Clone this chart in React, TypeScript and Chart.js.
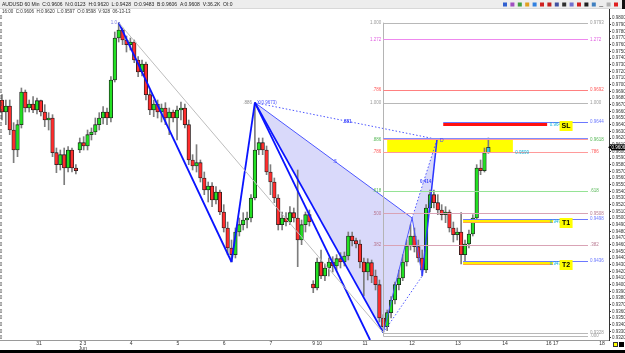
import React, { useEffect, useRef } from 'react';
import { Chart, registerables } from 'chart.js';

Chart.register(...registerables);

// ---------- candle data (2-hour bars, AUDUSD) ----------
const OPEN = [
  0.9677, 0.9659, 0.9668, 0.9632, 0.9602, 0.9640, 0.9689, 0.9665, 0.9671, 0.9662,
  0.9676, 0.9659, 0.9647, 0.9650, 0.9598, 0.9580, 0.9595, 0.9575, 0.9602, 0.9575,
  0.9602, 0.9613, 0.9608, 0.9625, 0.9629, 0.9640, 0.9650, 0.9659, 0.9650, 0.9707,
  0.9770, 0.9782, 0.9767, 0.9760, 0.9764, 0.9737, 0.9719, 0.9731, 0.9685, 0.9662,
  0.9671, 0.9659, 0.9665, 0.9650, 0.9659, 0.9650, 0.9662, 0.9665, 0.9640, 0.9587,
  0.9578, 0.9583, 0.9560, 0.9542, 0.9548, 0.9527, 0.9539, 0.9509, 0.9485, 0.9455,
  0.9445, 0.9479, 0.9490, 0.9497, 0.9500, 0.9530, 0.9602, 0.9613, 0.9602, 0.9569,
  0.9554, 0.9530, 0.9490, 0.9500, 0.9494, 0.9508, 0.9500, 0.9467, 0.9490, 0.9505,
  0.9401, 0.9395, 0.9434, 0.9413, 0.9425, 0.9434, 0.9428, 0.9439, 0.9434, 0.9443,
  0.9473, 0.9466, 0.9461, 0.9434, 0.9419, 0.9433, 0.9413, 0.9400, 0.9350, 0.9337,
  0.9358, 0.9377, 0.9400, 0.9410, 0.9434, 0.9458, 0.9473, 0.9457, 0.9440, 0.9422,
  0.9515, 0.9535, 0.9523, 0.9512, 0.9505, 0.9509, 0.9485, 0.9475, 0.9479, 0.9445,
  0.9461, 0.9476, 0.9500, 0.9575, 0.9571, 0.9598,
];
const HIGH = [
  0.9685, 0.9677, 0.9677, 0.9643, 0.9647, 0.9695, 0.9692, 0.9677, 0.9682, 0.9680,
  0.9677, 0.9670, 0.9658, 0.9655, 0.9605, 0.9602, 0.9605, 0.9607, 0.9605, 0.9580,
  0.9620, 0.9622, 0.9632, 0.9635, 0.9650, 0.9658, 0.9667, 0.9665, 0.9712, 0.9779,
  0.9793, 0.9785, 0.9773, 0.9770, 0.9767, 0.9742, 0.9737, 0.9734, 0.9692, 0.9677,
  0.9677, 0.9671, 0.9673, 0.9665, 0.9662, 0.9668, 0.9674, 0.9671, 0.9647, 0.9595,
  0.9610, 0.9587, 0.9569, 0.9554, 0.9553, 0.9547, 0.9542, 0.9520, 0.9494, 0.9467,
  0.9485, 0.9500, 0.9508, 0.9509, 0.9535, 0.9673, 0.9620, 0.9620, 0.9608, 0.9580,
  0.9560, 0.9535, 0.9509, 0.9508, 0.9517, 0.9515, 0.9572, 0.9497, 0.9509, 0.9512,
  0.9406, 0.9440, 0.9452, 0.9431, 0.9440, 0.9442, 0.9445, 0.9448, 0.9449, 0.9479,
  0.9479, 0.9470, 0.9467, 0.9440, 0.9439, 0.9437, 0.9422, 0.9407, 0.9355, 0.9362,
  0.9382, 0.9404, 0.9422, 0.9445, 0.9467, 0.9490, 0.9485, 0.9467, 0.9452, 0.9520,
  0.9542, 0.9542, 0.9535, 0.9520, 0.9517, 0.9512, 0.9494, 0.9485, 0.9508, 0.9467,
  0.9482, 0.9505, 0.9580, 0.9587, 0.9605, 0.9620,
];
const LOW = [
  0.9647, 0.9640, 0.9625, 0.9583, 0.9592, 0.9635, 0.9659, 0.9659, 0.9658, 0.9656,
  0.9653, 0.9637, 0.9632, 0.9592, 0.9568, 0.9572, 0.9550, 0.9569, 0.9569, 0.9566,
  0.9598, 0.9602, 0.9602, 0.9617, 0.9625, 0.9632, 0.9641, 0.9640, 0.9644, 0.9704,
  0.9764, 0.9760, 0.9749, 0.9752, 0.9733, 0.9712, 0.9713, 0.9677, 0.9655, 0.9652,
  0.9650, 0.9644, 0.9640, 0.9625, 0.9644, 0.9617, 0.9647, 0.9635, 0.9580, 0.9572,
  0.9569, 0.9554, 0.9535, 0.9524, 0.9517, 0.9521, 0.9505, 0.9479, 0.9445, 0.9434,
  0.9440, 0.9473, 0.9482, 0.9485, 0.9494, 0.9527, 0.9595, 0.9595, 0.9565, 0.9535,
  0.9523, 0.9482, 0.9482, 0.9488, 0.9490, 0.9494, 0.9427, 0.9460, 0.9479, 0.9488,
  0.9388, 0.9392, 0.9409, 0.9406, 0.9413, 0.9419, 0.9422, 0.9425, 0.9428, 0.9437,
  0.9458, 0.9455, 0.9425, 0.9383, 0.9407, 0.9403, 0.9392, 0.9344, 0.9328, 0.9331,
  0.9350, 0.9371, 0.9392, 0.9406, 0.9428, 0.9452, 0.9449, 0.9434, 0.9413, 0.9418,
  0.9509, 0.9515, 0.9505, 0.9497, 0.9493, 0.9479, 0.9464, 0.9467, 0.9431, 0.9434,
  0.9455, 0.9473, 0.9494, 0.9565, 0.9569, 0.9597,
];
const CLOSE = [
  0.9659, 0.9668, 0.9632, 0.9602, 0.9640, 0.9689, 0.9665, 0.9671, 0.9662, 0.9676,
  0.9659, 0.9647, 0.9650, 0.9598, 0.9580, 0.9595, 0.9575, 0.9602, 0.9575, 0.9571,
  0.9613, 0.9608, 0.9625, 0.9629, 0.9640, 0.9650, 0.9659, 0.9650, 0.9707, 0.9770,
  0.9782, 0.9767, 0.9760, 0.9764, 0.9737, 0.9719, 0.9731, 0.9685, 0.9662, 0.9671,
  0.9659, 0.9665, 0.9650, 0.9659, 0.9650, 0.9662, 0.9665, 0.9640, 0.9587, 0.9578,
  0.9583, 0.9560, 0.9542, 0.9548, 0.9527, 0.9539, 0.9509, 0.9485, 0.9455, 0.9445,
  0.9479, 0.9490, 0.9497, 0.9500, 0.9530, 0.9602, 0.9613, 0.9602, 0.9569, 0.9554,
  0.9530, 0.9490, 0.9500, 0.9494, 0.9508, 0.9500, 0.9467, 0.9490, 0.9505, 0.9494,
  0.9395, 0.9434, 0.9413, 0.9425, 0.9434, 0.9428, 0.9439, 0.9434, 0.9443, 0.9473,
  0.9466, 0.9461, 0.9434, 0.9419, 0.9433, 0.9413, 0.9400, 0.9350, 0.9337, 0.9358,
  0.9377, 0.9400, 0.9410, 0.9434, 0.9458, 0.9473, 0.9457, 0.9440, 0.9422, 0.9515,
  0.9535, 0.9523, 0.9512, 0.9505, 0.9509, 0.9485, 0.9475, 0.9479, 0.9445, 0.9461,
  0.9476, 0.9500, 0.9575, 0.9571, 0.9598, 0.9606,
];

// ---------- axis ticks ----------
const X_TICK_POS = [9.5, 20.8, 33.2, 45.2, 57.1, 69.1, 81.0, 93.3, 105.4, 117.2, 129.3, 141.4, 154.2];
const X_TICK_LABELS: (string | string[])[] = ['31', ['2 3', 'Jun'], '4', '5', '6', '7', '9 10', '11', '12', '13', '14', '16 17', '18'];
const Y_MIN = 0.9317;
const Y_MAX = 0.9815;
const Y_TICKS = Array.from({ length: 49 }, (_, i) => +(0.932 + i * 0.001).toFixed(4));

// ---------- harmonic pattern points [bar index, price] ----------
const PEAK = [30, 0.9793];
const SWING_LOW = [59, 0.9434];
const PT_X = [65, 0.9673];
const PT_A = [98, 0.9328];
const PT_B = [105.4, 0.95];
const PT_C = [108, 0.9413];
const PT_D = [111.8, 0.9618];
const XA_EXT = [94.6, 0.9317];

// ---------- fibonacci / trade levels ----------
const FIB_PRICES = [0.9793, 0.9768, 0.9692, 0.9673, 0.9618, 0.9599, 0.9541, 0.9507, 0.946, 0.9328, 0.9323];
const FIB_LEFT = ['1.000', '1.272', '.786', '1.000', '.886', '.786', '.618', '.500', '.382', '', ''];
const FIB_RIGHT = ['0.9793', '1.272', '0.9692', '1.000', '0.9618', '.786', '.618', '0.9508', '.382', '0.9328', '.000'];
const ZONE = [0.9599, 0.9618];
const TRADE_PRICES = [0.9644, 0.9498, 0.9436];
const TRADE_NAMES = ['SL', 'T1', 'T2'];
const LAST_PRICE = 0.9606;

const HEADER_1 = 'AUDUSD 60 Min  C:0.9606  N:0.0123  H:0.9620  L:0.9428  O:0.9483  B:0.9606  A:0.9608  V:36.2K  OI:0';
const HEADER_2 = '16:00  C:0.9606  H:0.9620  L:0.9597  O:0.9598  V:928  06-13-13';

// ---------- styles ----------
const FONT = '"Liberation Sans", Arial, sans-serif';
const FIB_LINE_COLORS = ['#b8b8b8', '#ee88ee', '#ff8080', '#b8b8b8', '#ff9a9a', '#ff9a9a', '#95e395', '#d9a3b5', '#d9a3b5', '#b8b8b8', '#b8b8b8'];
const FIB_TEXT_COLORS = ['#9a9a9a', '#e060e0', '#ff5a5a', '#9a9a9a', '#58b858', '#ff5a5a', '#58b858', '#b87890', '#b87890', '#9a9a9a', '#9a9a9a'];
const FIB_U0 = 98;
const FIB_U1 = 150.6;
const LABEL_R_U = 151.1;
const ZONE_U0 = 99;
const ZONE_U1 = 131.3;
const SL_U0 = 113.4;
const SL_U1 = 140.1;
const T_U0 = 118.5;
const T_U1 = 141.6;
const CYAN_U = 140.8;
const BOX_U = 143.3;

const pt = (p: number[]) => ({ x: p[0], y: p[1] });

const overlay = {
  id: 'overlay',
  beforeDatasetsDraw(chart: any) {
    const { ctx } = chart;
    const xs = chart.scales.x;
    const ys = chart.scales.y;
    const X = (u: number) => xs.getPixelForValue(u);
    const Y = (p: number) => ys.getPixelForValue(p);
    ctx.save();
    ctx.fillStyle = 'rgba(150,150,240,0.36)';
    [[PT_X, PT_A, PT_B], [PT_B, PT_C, PT_D]].forEach((tri) => {
      ctx.beginPath();
      tri.forEach((q, i) => {
        const px = X(q[0]);
        const py = Y(q[1]);
        if (i) ctx.lineTo(px, py);
        else ctx.moveTo(px, py);
      });
      ctx.closePath();
      ctx.fill();
    });
    const zx0 = X(ZONE_U0);
    const zx1 = X(ZONE_U1);
    const zy0 = Y(ZONE[1]);
    const zy1 = Y(ZONE[0]);
    ctx.fillStyle = '#ffff00';
    ctx.fillRect(zx0, zy0, zx1 - zx0, zy1 - zy0);
    ctx.restore();
  },
  afterDatasetsDraw(chart: any) {
    const { ctx } = chart;
    const xs = chart.scales.x;
    const ys = chart.scales.y;
    const X = (u: number) => xs.getPixelForValue(u);
    const Y = (p: number) => ys.getPixelForValue(p);
    const hl = (p: number, u0: number, u1: number, color: string, w = 1, dy = 0) => {
      const y = Math.round(Y(p)) + 0.5 + dy;
      ctx.strokeStyle = color;
      ctx.lineWidth = w;
      ctx.beginPath();
      ctx.moveTo(X(u0), y);
      ctx.lineTo(X(u1), y);
      ctx.stroke();
    };
    const txt = (s: string, x: number, y: number, color: string, size = 4.5, align = 'left', bold = false) => {
      ctx.font = `${bold ? 'bold ' : ''}${size}px ${FONT}`;
      ctx.fillStyle = color;
      ctx.textAlign = align;
      ctx.textBaseline = 'middle';
      ctx.fillText(s, x, y);
    };
    ctx.save();
    // fib tool vertical
    const vx = Math.round(X(FIB_U0)) + 0.5;
    ctx.strokeStyle = '#b4b4b4';
    ctx.lineWidth = 1;
    ctx.beginPath();
    ctx.moveTo(vx, Y(FIB_PRICES[0]));
    ctx.lineTo(vx, Y(FIB_PRICES[FIB_PRICES.length - 1]));
    ctx.stroke();
    FIB_PRICES.forEach((p, i) => {
      hl(p, FIB_U0, FIB_U1, FIB_LINE_COLORS[i]);
      if (FIB_LEFT[i]) txt(FIB_LEFT[i], X(FIB_U0) - 2, Y(p), FIB_TEXT_COLORS[i], 4.5, 'right');
      txt(FIB_RIGHT[i], X(LABEL_R_U), Y(p), FIB_TEXT_COLORS[i], 4.5);
    });
    hl(ZONE[1], FIB_U0, FIB_U1, '#7f8cff', 1, -1);
    // trade levels
    TRADE_PRICES.forEach((p, i) => {
      const u0 = i === 0 ? SL_U0 : T_U0;
      const u1 = i === 0 ? SL_U1 : T_U1;
      const y = Math.round(Y(p));
      hl(p, u0, FIB_U1, '#6b78ff');
      if (i === 0) {
        ctx.fillStyle = '#ff1010';
        ctx.fillRect(X(u0), y + 1, X(u1) - X(u0), 3);
      } else {
        ctx.fillStyle = '#ffee00';
        ctx.fillRect(X(u0), y + 1, X(u1) - X(u0), 2);
        ctx.fillStyle = '#ffa24a';
        ctx.fillRect(X(u0), y + 3, X(u1) - X(u0), 1);
      }
      txt(p.toFixed(4), X(LABEL_R_U), y, '#6b78ff');
      txt(p.toFixed(4), X(CYAN_U), y + 3, '#12b4da');
      const bx = X(BOX_U);
      ctx.fillStyle = '#ffff00';
      ctx.fillRect(bx, y - 1, 13, 10);
      txt(TRADE_NAMES[i], bx + 6.5, y + 4.2, '#000', 7, 'center', true);
    });
    txt('0.9599', X(131.9), Y(0.9599) + 0.5, '#12b4da');
    // pattern labels
    txt('.886', X(PT_X[0]) - 3, Y(PT_X[1]), '#8a8a8a', 4.5, 'right');
    txt('X(0.9673)', X(PT_X[0]) + 2, Y(PT_X[1]), '#4b55ff');
    txt('1.0', X(PEAK[0]) - 8, Y(PEAK[1]), '#8080e0');
    txt('.881', X(87.6), Y(0.9644), '#3a44ff', 4.5, 'left', true);
    txt('.5', X(85.1), Y(0.9585), '#3a44ff');
    txt('0.414', X(107.4), Y(0.9555), '#3a44ff', 4.5, 'left', true);
    txt('D', X(112.6), Y(PT_D[1]) + 1, '#3a44ff', 5);
    ctx.restore();
  },
  afterDraw(chart: any) {
    const { ctx } = chart;
    const ys = chart.scales.y;
    const Y = (p: number) => ys.getPixelForValue(p);
    ctx.save();
    // header
    ctx.fillStyle = '#ededed';
    ctx.fillRect(0, 0, 625, 8);
    ctx.fillStyle = '#d8d8d8';
    ctx.fillRect(0, 8, 625, 1);
    ctx.font = `5px ${FONT}`;
    ctx.textBaseline = 'middle';
    ctx.textAlign = 'left';
    ctx.fillStyle = '#222';
    ctx.fillText(HEADER_1, 2, 4.3);
    ctx.font = `4.5px ${FONT}`;
    ctx.fillStyle = '#333';
    ctx.fillText(HEADER_2, 2, 12.2);
    // toolbar icons
    const icons = ['#3060d0', '#a050c0', '#40a040', '#e0a020', '#3080e0', '#d02020', '#c02020', '#4050a0', '#303030', '#7070d0', '#d02020', '#202020', '#4080c0', '#909090', '#b0b0b0', '#e02020'];
    icons.forEach((c, i) => {
      ctx.fillStyle = c;
      const x = 503 + i * 7.4;
      if (i === 13) ctx.fillRect(x, 6, 4, 1);
      else ctx.fillRect(x, 2.5, 4, 4);
    });
    ctx.fillStyle = '#111';
    ctx.fillRect(622, 0, 3, 9);
    // left clipped axis labels
    ctx.font = `4.5px ${FONT}`;
    ctx.fillStyle = '#444';
    ctx.textAlign = 'right';
    Y_TICKS.forEach((v) => {
      if (v <= 0.9805) ctx.fillText(v.toFixed(4), 2.2, Y(v));
    });
    // last price marker
    const ly = Y(LAST_PRICE);
    ctx.fillStyle = '#000';
    ctx.fillRect(611, ly - 3, 14, 6);
    ctx.beginPath();
    ctx.moveTo(608, ly);
    ctx.lineTo(611, ly - 2);
    ctx.lineTo(611, ly + 2);
    ctx.fill();
    ctx.fillStyle = '#fff';
    ctx.textAlign = 'left';
    ctx.fillText(LAST_PRICE.toFixed(4), 611.5, ly + 0.3);
    // bottom
    ctx.fillStyle = '#000';
    ctx.fillRect(0, 350, 625, 3);
    ctx.fillStyle = '#ffff00';
    ctx.fillRect(613, 342, 5, 5);
    ctx.strokeStyle = '#333';
    ctx.strokeRect(613.5, 342.5, 4, 4);
    ctx.fillStyle = '#000';
    ctx.fillRect(619, 342, 5, 5);
    ctx.restore();
  },
};

export default function App() {
  const canvasRef = useRef<HTMLCanvasElement | null>(null);

  useEffect(() => {
    document.body.style.margin = '0';
    const canvas = canvasRef.current;
    if (!canvas) return;
    const n = CLOSE.length;
    const idx = Array.from({ length: n }, (_, i) => i);
    const bodyColor = idx.map((i) => (i === n - 1 ? '#36c6f4' : CLOSE[i] >= OPEN[i] ? '#22e022' : '#ff2d2d'));
    const line = (pts: number[][], color: string, width: number, dash: number[] = []) => ({
      type: 'line',
      data: pts.map(pt),
      borderColor: color,
      borderWidth: width,
      borderDash: dash,
      pointRadius: 0,
      pointHoverRadius: 0,
      fill: false,
      tension: 0,
      order: 1,
    });
    const chart = new Chart(canvas, {
      type: 'bar',
      data: {
        datasets: [
          {
            type: 'bar',
            data: idx.map((i) => ({ x: i, y: [LOW[i], HIGH[i]] })),
            backgroundColor: '#7d7d7d',
            barThickness: 1,
            grouped: false,
            order: 6,
          },
          {
            type: 'bar',
            data: idx.map((i) => ({ x: i, y: [OPEN[i], CLOSE[i]] })),
            backgroundColor: bodyColor,
            borderColor: '#1b1b1b',
            borderWidth: 0.8,
            borderSkipped: false,
            barThickness: 3.6,
            minBarLength: 1,
            grouped: false,
            order: 5,
          },
          line([PEAK, PT_A], '#bdbdbd', 1),
          line([PEAK, SWING_LOW], '#0a14ff', 1.8),
          line([SWING_LOW, PT_X], '#0a14ff', 1.8),
          line([PT_X, PT_A], '#0a14ff', 1.8),
          line([PT_X, XA_EXT], '#0a14ff', 1.8),
          line([PT_X, PT_B], '#4b55ff', 1),
          line([PT_A, PT_B], '#4b55ff', 1),
          line([PT_B, PT_C], '#4b55ff', 1),
          line([PT_C, PT_D], '#2a34ff', 1.5),
          line([PT_X, PT_D], '#4b55ff', 1, [1.5, 2]),
          line([PT_A, PT_C], '#4b55ff', 1, [1.5, 2]),
          line([PT_B, PT_D], '#4b55ff', 1, [1.5, 2]),
        ] as any,
      },
      options: {
        responsive: false,
        animation: false,
        devicePixelRatio: 1,
        events: [],
        layout: { padding: { top: 8, left: 0, right: 0, bottom: 0 } },
        plugins: { legend: { display: false }, tooltip: { enabled: false } },
        scales: {
          x: {
            type: 'linear',
            min: -0.5,
            max: 156,
            offset: false,
            grid: { drawOnChartArea: false, drawTicks: false, color: '#9a9a9a' },
            border: { display: true, color: '#9a9a9a' },
            ticks: {
              autoSkip: false,
              maxRotation: 0,
              padding: 1,
              color: '#333',
              font: { size: 5, family: FONT, lineHeight: 0.95 },
              callback: (_v: any, i: number) => X_TICK_LABELS[i],
            },
            afterBuildTicks: (s: any) => {
              s.ticks = X_TICK_POS.map((v) => ({ value: v }));
            },
            afterFit: (s: any) => {
              s.height = 13;
            },
          },
          y: {
            type: 'linear',
            position: 'right',
            min: Y_MIN,
            max: Y_MAX,
            grid: { drawOnChartArea: false, drawTicks: true, tickLength: 2, color: '#333' },
            border: { display: true, color: '#333' },
            ticks: {
              autoSkip: false,
              padding: 1,
              color: '#333',
              font: { size: 4.5, family: FONT },
              callback: (v: any) => Number(v).toFixed(4),
            },
            afterBuildTicks: (s: any) => {
              s.ticks = Y_TICKS.filter((v) => v <= 0.9805).map((v) => ({ value: v }));
            },
            afterFit: (s: any) => {
              s.width = 16;
            },
          },
        },
      } as any,
      plugins: [overlay as any],
    });
    return () => chart.destroy();
  }, []);

  return (
    <div style={{ width: 625, height: 353, position: 'relative', background: '#fff' }}>
      <canvas ref={canvasRef} width={625} height={353} style={{ display: 'block' }} />
    </div>
  );
}
